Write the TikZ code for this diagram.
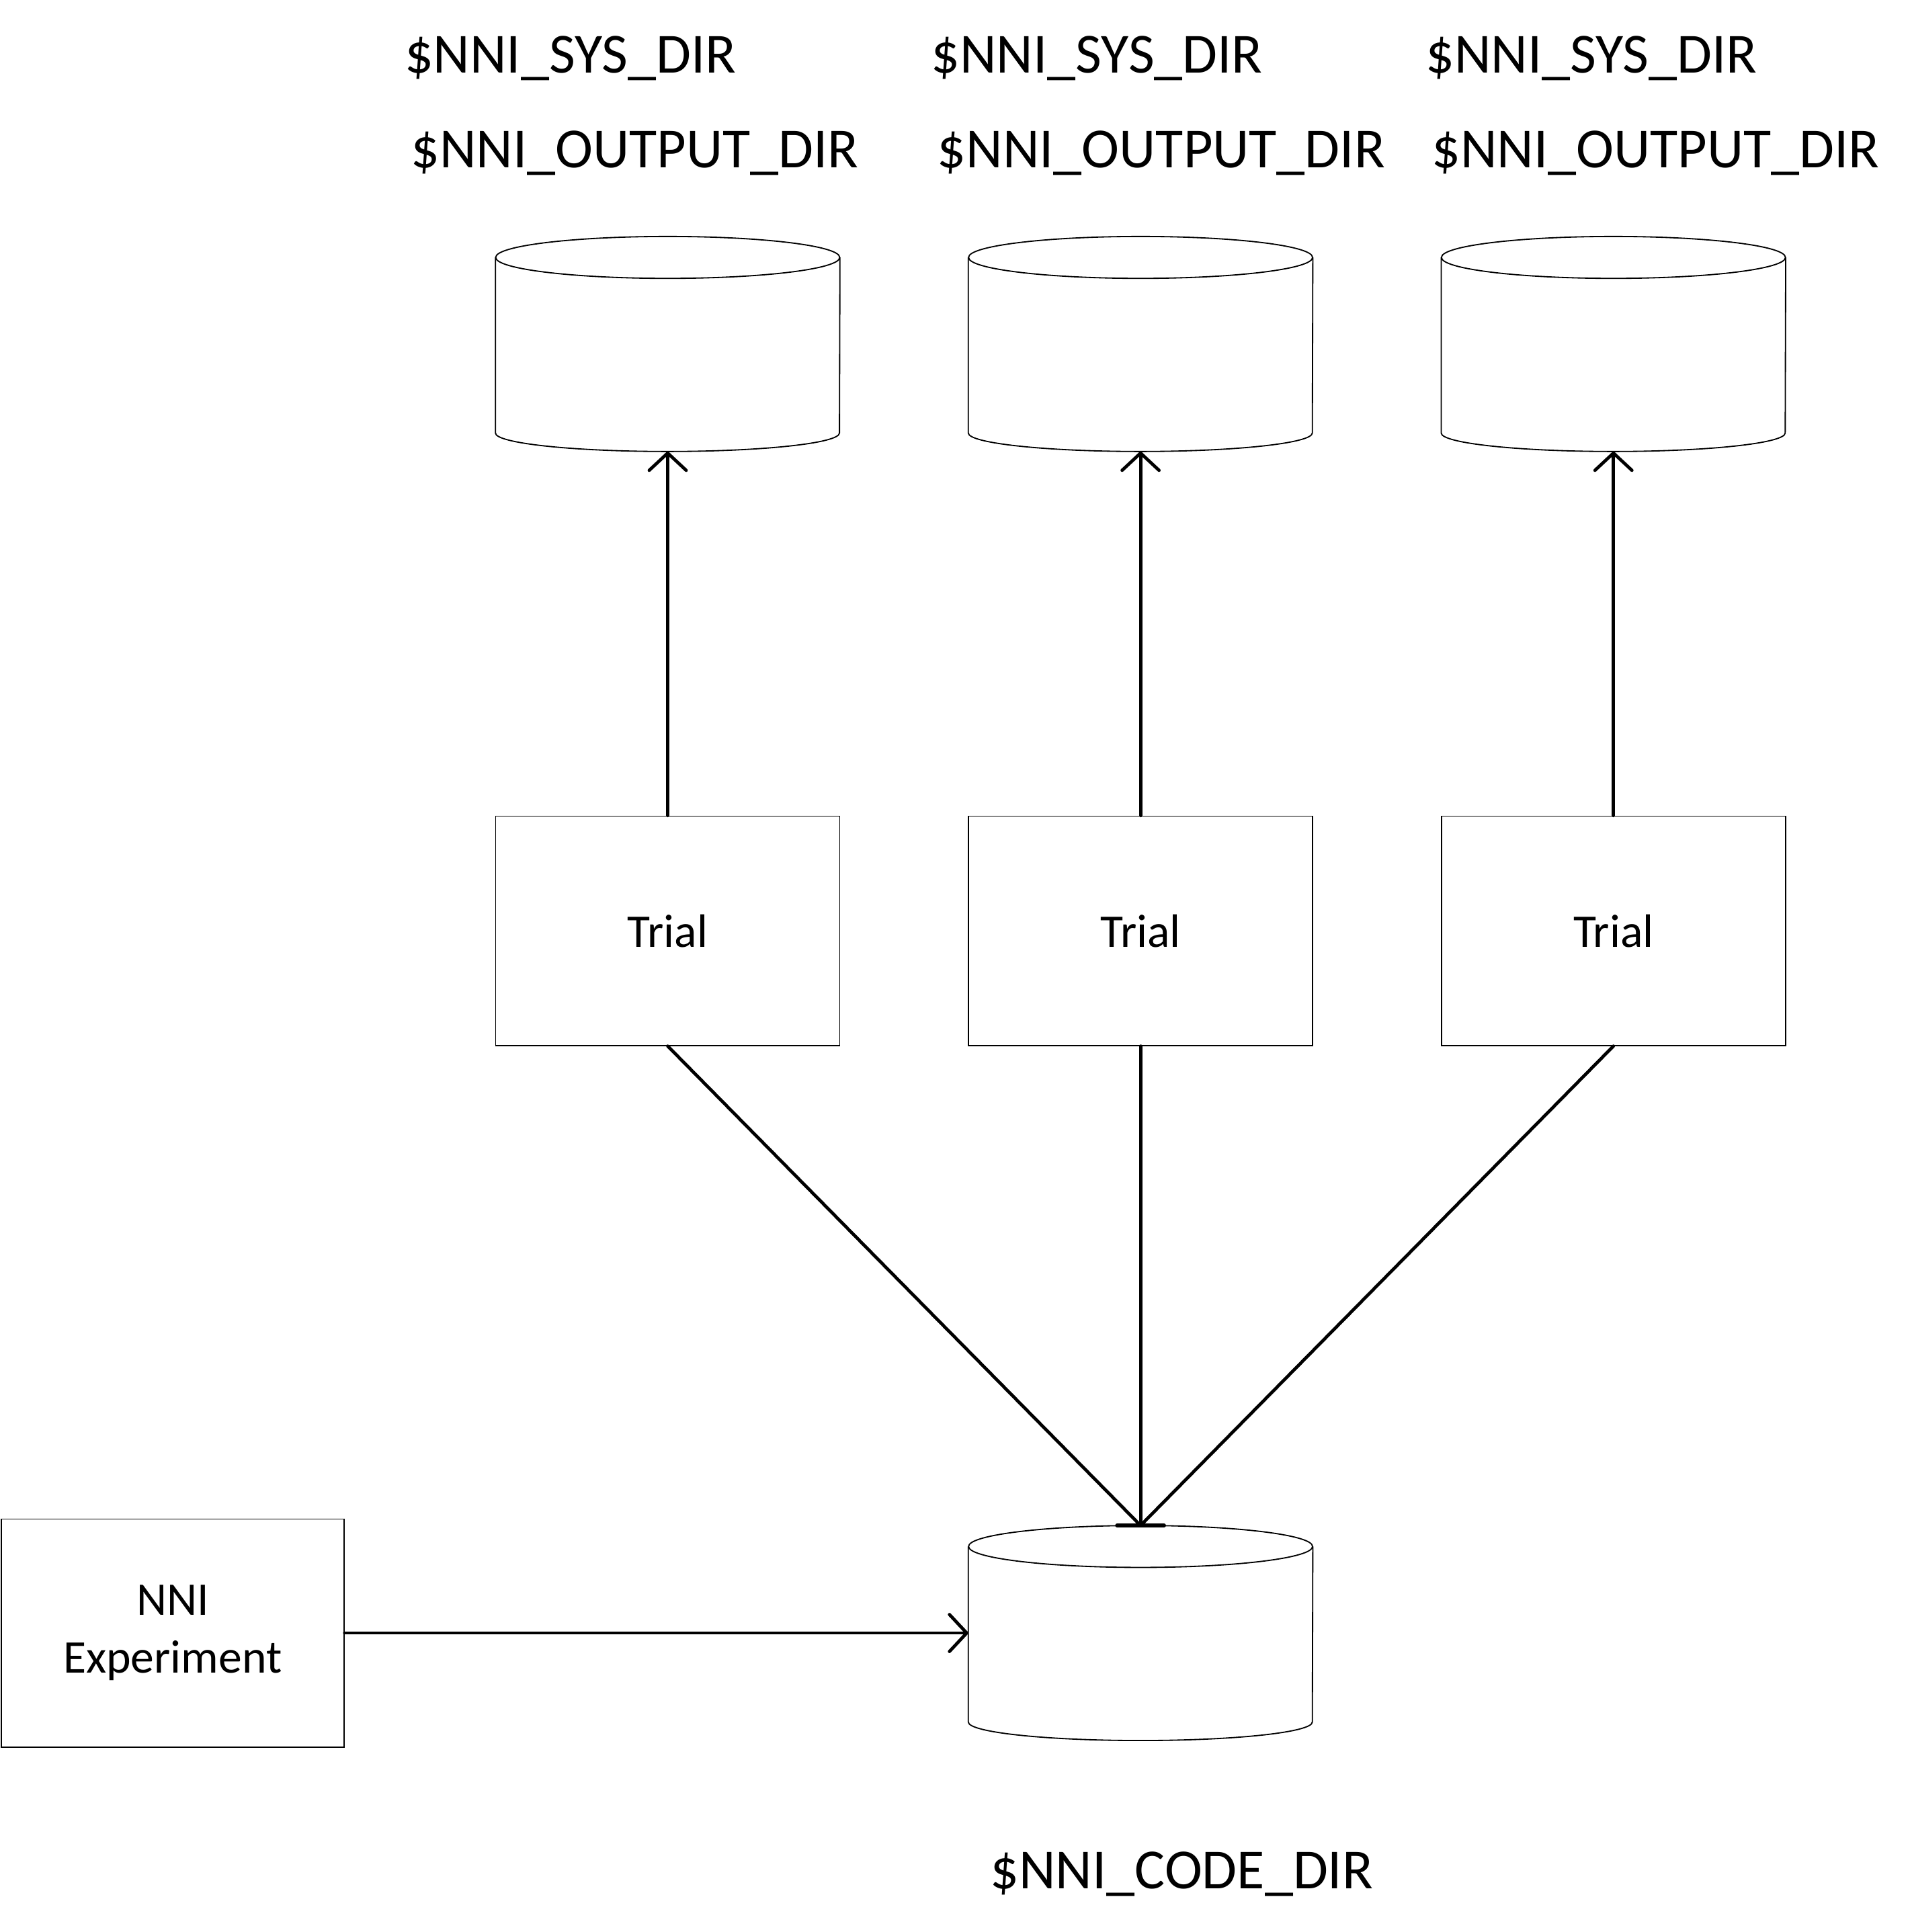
\documentclass[tikz,border=0pt]{standalone}
\usepackage{fontspec}
\setmainfont{Carlito}
\usetikzlibrary{arrows.meta,calc}
\newcommand\drawcyl[1]{%
  \draw[outline] ($(#1.north west)+(0,-17)$) -- ($(#1.south west)+(0,15)$)
     arc[start angle=180,end angle=360,x radius=139.5,y radius=15] -- ($(#1.north east)+(0,-17)$);
  \draw[outline] ($(#1.north)+(0,-17)$) ellipse[x radius=139.5,y radius=17];
}
\begin{document}
\begin{tikzpicture}[x=1pt,y=1pt,
  box/.style={draw,line width=0.9pt,minimum width=279pt,minimum height=186pt,inner sep=0pt,font=\fontsize{38}{47}\selectfont,align=center},
  cylbox/.style={minimum width=279pt,minimum height=174pt,inner sep=0pt},
  lbl/.style={anchor=base west,inner sep=0pt,font=\fontsize{46}{55}\selectfont},
  conn/.style={line width=2.6pt,line cap=round},
  arr/.style={conn,-{Straight Barb[length=14pt,width=30pt,line width=2.6pt,round]}},
  outline/.style={line width=1pt}
]
\useasboundingbox (0,11) rectangle (1549,1578);

% output directories (cylinders)
\node[cylbox] (o1) at (541.5,1299) {};
\node[cylbox] (o2) at (925,1299) {};
\node[cylbox] (o3) at (1308.5,1299) {};
\drawcyl{o1}\drawcyl{o2}\drawcyl{o3}

% labels
\node[lbl] (s1) at (328,1519) {\$NNI\_SYS\_DIR};
\node[lbl] (s2) at (755,1519) {\$NNI\_SYS\_DIR};
\node[lbl] (s3) at (1156,1519) {\$NNI\_SYS\_DIR};
\node[lbl] (u1) at (333,1442) {\$NNI\_OUTPUT\_DIR};
\node[lbl] (u2) at (760,1442) {\$NNI\_OUTPUT\_DIR};
\node[lbl] (u3) at (1161,1442) {\$NNI\_OUTPUT\_DIR};

% trials
\node[box] (t1) at (541.5,823) {Trial};
\node[box] (t2) at (925,823) {Trial};
\node[box] (t3) at (1308.5,823) {Trial};

% code dir
\node[cylbox] (code) at (925,253.5) {};
\drawcyl{code}
\node[lbl] (cl) at (803,46) {\$NNI\_CODE\_DIR};

% experiment
\node[box,minimum width=278pt,minimum height=185pt] (exp) at (140,253.5) {NNI\\Experiment};

% connectors
\draw[arr] (t1.north) -- (o1.south);
\draw[arr] (t2.north) -- (o2.south);
\draw[arr] (t3.north) -- (o3.south);
\draw[conn] (t1.south) -- (code.north);
\draw[conn] (t2.south) -- (code.north);
\draw[conn] (t3.south) -- (code.north);
\draw[line width=3.2pt,line cap=round] ([xshift=-19pt]code.north) -- ([xshift=19pt]code.north);
\draw[arr] (exp.east) -- (code.west);
\end{tikzpicture}
\end{document}
